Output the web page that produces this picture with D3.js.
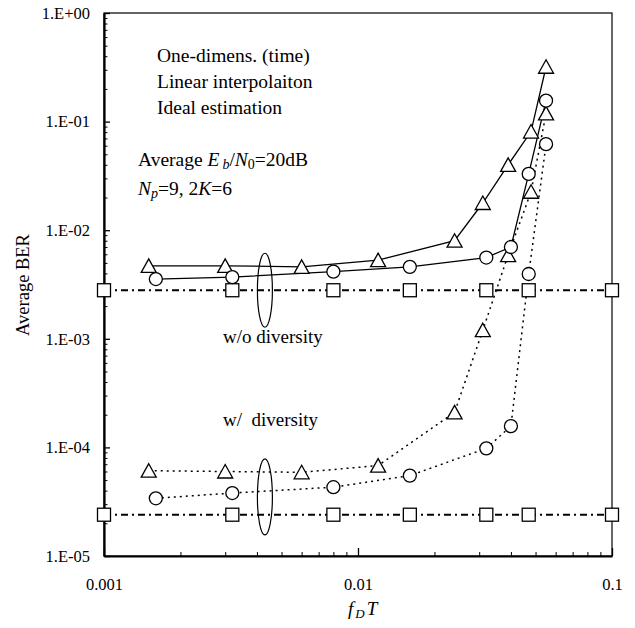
<!DOCTYPE html>
<html>
<head>
<meta charset="utf-8">
<script src="https://cdn.jsdelivr.net/npm/d3@7"></script>
<style>
  body { margin: 0; background: #fff; }
  text { font-family: "Liberation Serif", "Times New Roman", serif; fill: #000; }
</style>
</head>
<body>
<script>
// data
var xTri = [0.0015, 0.003, 0.006, 0.012, 0.024, 0.031, 0.039, 0.048, 0.055];
var xCirc = [0.0016, 0.0032, 0.008, 0.016, 0.032, 0.04, 0.047, 0.055];
var xSquare = [0.001, 0.0032, 0.008, 0.016, 0.032, 0.047, 0.1];

var berTriNoDiv = [4.7e-3, 4.7e-3, 4.6e-3, 5.3e-3, 8.0e-3, 0.0178, 0.040, 0.081, 0.32];
var berCircNoDiv = [3.55e-3, 3.7e-3, 4.15e-3, 4.6e-3, 5.6e-3, 7.0e-3, 0.033, 0.156];
var berSquareNoDiv = [2.8e-3, 2.8e-3, 2.8e-3, 2.8e-3, 2.8e-3, 2.8e-3, 2.8e-3];

var berTriDiv = [6.1e-5, 6.0e-5, 5.9e-5, 6.8e-5, 2.1e-4, 1.2e-3, 5.9e-3, 0.0226, 0.119];
var berCircDiv = [3.4e-5, 3.8e-5, 4.3e-5, 5.5e-5, 9.8e-5, 1.57e-4, 3.95e-3, 0.062];
var berSquareDiv = [2.4e-5, 2.4e-5, 2.4e-5, 2.4e-5, 2.4e-5, 2.4e-5, 2.4e-5];

var xTicks = [0.001, 0.01, 0.1];
var xTickLabels = ["0.001", "0.01", "0.1"];
var yTicks = [1, 1e-1, 1e-2, 1e-3, 1e-4, 1e-5];
var yTickLabels = ["1.E+00", "1.E-01", "1.E-02", "1.E-03", "1.E-04", "1.E-05"];

var w = 635, h = 628;
var pLeft = 104, pRight = 612, pTop = 13, pBottom = 556;

var svg = d3.select("body").append("svg")
  .attr("width", w)
  .attr("height", h);

var x = d3.scaleLog().domain([0.001, 0.1]).range([pLeft, pRight]);
var y = d3.scaleLog().domain([1e-5, 1]).range([pBottom, pTop]);

// frame
svg.append("rect")
  .attr("x", pLeft).attr("y", pTop)
  .attr("width", pRight - pLeft).attr("height", pBottom - pTop)
  .attr("fill", "none").attr("stroke", "#000").attr("stroke-width", 1.2);

// minor ticks
var xMinor = [], yMinor = [];
[0.001, 0.01].forEach(function(d) {
  for (var k = 2; k <= 9; k++) xMinor.push(d * k);
});
[1e-5, 1e-4, 1e-3, 1e-2, 1e-1].forEach(function(d) {
  for (var k = 2; k <= 9; k++) yMinor.push(d * k);
});

// x axis (ticks inside)
var xAxis = d3.axisBottom(x).tickValues(xTicks).tickSizeInner(-8).tickSizeOuter(0)
  .tickFormat(function(d, i) { return xTickLabels[i]; }).tickPadding(22);
var gx = svg.append("g").attr("transform", "translate(0," + pBottom + ")").call(xAxis);
gx.select(".domain").attr("stroke-width", 2.2);
gx.selectAll(".tick line").attr("stroke-width", 1.3);
gx.selectAll("text").style("font-size", "16.5px").style("font-family", "Liberation Serif");
svg.append("g").attr("transform", "translate(0," + pBottom + ")")
  .call(d3.axisBottom(x).tickValues(xMinor).tickSizeInner(-4).tickSizeOuter(0).tickFormat(""))
  .call(function(g) { g.select(".domain").remove(); });

// y axis (ticks inside)
var yAxis = d3.axisLeft(y).tickValues(yTicks).tickSizeInner(-6).tickSizeOuter(0)
  .tickFormat(function(d, i) { return yTickLabels[i]; }).tickPadding(14);
var gy = svg.append("g").attr("transform", "translate(" + pLeft + ",0)").call(yAxis);
gy.select(".domain").attr("stroke-width", 2.2);
gy.selectAll(".tick line").attr("stroke-width", 1.3);
gy.selectAll("text").style("font-size", "16.5px").style("font-family", "Liberation Serif");
svg.append("g").attr("transform", "translate(" + pLeft + ",0)")
  .call(d3.axisLeft(y).tickValues(yMinor).tickSizeInner(-3.5).tickSizeOuter(0).tickFormat(""))
  .call(function(g) { g.select(".domain").remove(); });

// lines
var line = d3.line()
  .x(function(d) { return x(d[0]); })
  .y(function(d) { return y(d[1]); });

function series(xs, ys) { return xs.map(function(v, i) { return [v, ys[i]]; }); }

var curves = [
  { pts: series(xSquare, berSquareNoDiv), dash: "7,4,2,4", sw: 2, mark: "square" },
  { pts: series(xSquare, berSquareDiv), dash: "7,4,2,4", sw: 2, mark: "square" },
  { pts: series(xTri, berTriDiv), dash: "2,4", sw: 1.5, mark: "tri" },
  { pts: series(xCirc, berCircDiv), dash: "2,4", sw: 1.5, mark: "circ" },
  { pts: series(xTri, berTriNoDiv), dash: null, sw: 1.3, mark: "tri" },
  { pts: series(xCirc, berCircNoDiv), dash: null, sw: 1.3, mark: "circ" }
];

curves.forEach(function(c) {
  svg.append("path")
    .datum(c.pts)
    .attr("d", line)
    .attr("fill", "none")
    .attr("stroke", "#000")
    .attr("stroke-width", c.sw)
    .attr("stroke-dasharray", c.dash);
});

var sym = {
  tri: function(sel) {
    sel.append("path")
      .attr("d", "M0,-7 L7.5,6.5 L-7.5,6.5 Z");
  },
  circ: function(sel) {
    sel.append("circle").attr("r", 6.5);
  },
  square: function(sel) {
    sel.append("rect").attr("x", -6.5).attr("y", -6.5).attr("width", 13).attr("height", 13);
  }
};

curves.forEach(function(c) {
  var g = svg.selectAll(null)
    .data(c.pts)
    .enter()
    .append("g")
    .attr("transform", function(d) { return "translate(" + x(d[0]) + "," + y(d[1]) + ")"; })
    .attr("fill", "#fff")
    .attr("stroke", "#000")
    .attr("stroke-width", 1.3);
  sym[c.mark](g);
});

// ellipses grouping the curves
svg.append("ellipse")
  .attr("cx", x(0.0043)).attr("cy", y(2.8e-3))
  .attr("rx", 7.5).attr("ry", 37)
  .attr("fill", "none").attr("stroke", "#000").attr("stroke-width", 1.2);
svg.append("ellipse")
  .attr("cx", x(0.0043)).attr("cy", y(3.5e-5))
  .attr("rx", 7.5).attr("ry", 38)
  .attr("fill", "none").attr("stroke", "#000").attr("stroke-width", 1.2);

// annotations
var fs = "19.5px";
svg.append("text").attr("x", 157).attr("y", 62).style("font-size", fs).text("One-dimens. (time)");
svg.append("text").attr("x", 157).attr("y", 88).style("font-size", fs).text("Linear interpolaiton");
svg.append("text").attr("x", 157).attr("y", 114).style("font-size", fs).text("Ideal estimation");

var t1 = svg.append("text").attr("x", 138).attr("y", 166).style("font-size", fs);
t1.append("tspan").text("Average ");
t1.append("tspan").style("font-style", "italic").text("E");
t1.append("tspan").style("font-style", "italic").style("font-size", "14px").attr("dx", 3).attr("dy", 3).text("b");
t1.append("tspan").attr("dy", -3).text("/");
t1.append("tspan").style("font-style", "italic").text("N");
t1.append("tspan").style("font-size", "14px").attr("dy", 3).text("0");
t1.append("tspan").attr("dy", -3).text("=20dB");

var t2 = svg.append("text").attr("x", 138).attr("y", 195).style("font-size", fs);
t2.append("tspan").style("font-style", "italic").text("N");
t2.append("tspan").style("font-style", "italic").style("font-size", "14px").attr("dy", 3).text("p");
t2.append("tspan").attr("dy", -3).text("=9, 2");
t2.append("tspan").style("font-style", "italic").text("K");
t2.append("tspan").text("=6");

svg.append("text").attr("x", 223).attr("y", 343).style("font-size", "19px").text("w/o diversity");
svg.append("text").attr("x", 223).attr("y", 426).style("font-size", "19px")
  .attr("xml:space", "preserve").style("white-space", "pre").text("w/  diversity");

// axis titles
svg.append("text")
  .attr("transform", "translate(29,285) rotate(-90)")
  .attr("text-anchor", "middle")
  .style("font-size", "18.5px")
  .text("Average BER");

var xt = svg.append("text").attr("x", 348).attr("y", 615).style("font-size", "19px");
xt.append("tspan").style("font-style", "italic").text("f");
xt.append("tspan").style("font-style", "italic").style("font-size", "13px").attr("dx", 2).attr("dy", 3).text("D");
xt.append("tspan").style("font-style", "italic").attr("dx", 2).attr("dy", -3).text("T");
</script>
</body>
</html>
